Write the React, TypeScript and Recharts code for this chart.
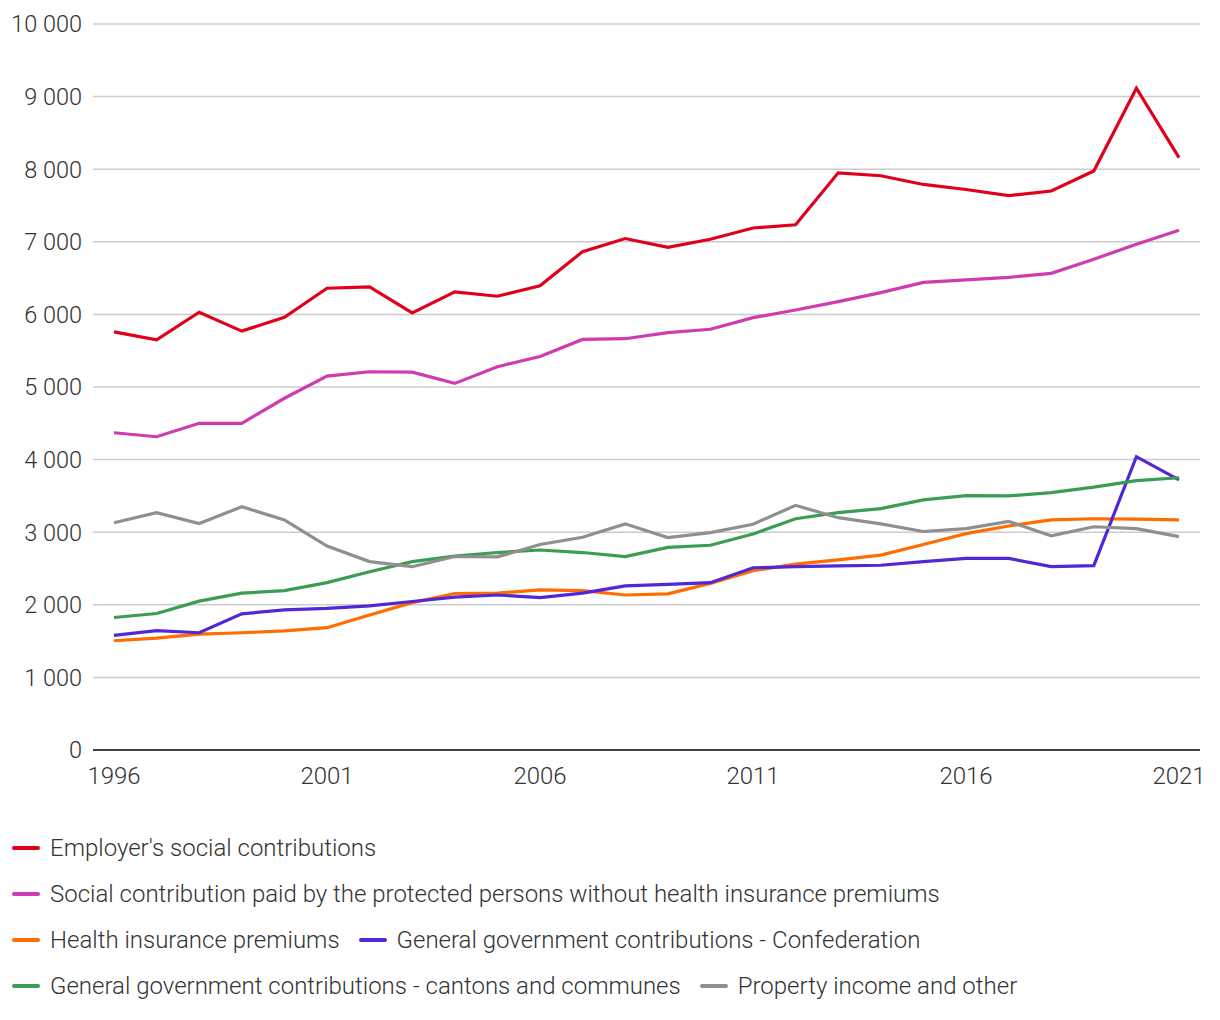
import React from "react";
import {
  LineChart,
  Line,
  XAxis,
  YAxis,
  CartesianGrid,
} from "recharts";

const years = [
  1996, 1997, 1998, 1999, 2000, 2001, 2002, 2003, 2004, 2005, 2006, 2007, 2008,
  2009, 2010, 2011, 2012, 2013, 2014, 2015, 2016, 2017, 2018, 2019, 2020, 2021,
];

const employer = [
  5760, 5650, 6030, 5770, 5960, 6360, 6380, 6020, 6310, 6250, 6395, 6865, 7045,
  6925, 7035, 7190, 7235, 7950, 7910, 7790, 7720, 7635, 7700, 7975, 9115, 8160,
];
const protectedPersons = [
  4370, 4315, 4500, 4500, 4845, 5150, 5210, 5205, 5050, 5280, 5420, 5655, 5665,
  5750, 5795, 5955, 6060, 6175, 6300, 6440, 6475, 6510, 6565, 6760, 6965, 7160,
];
const healthPremiums = [
  1505, 1540, 1595, 1615, 1640, 1685, 1860, 2030, 2155, 2160, 2205, 2195, 2135,
  2150, 2295, 2470, 2560, 2620, 2685, 2830, 2980, 3085, 3170, 3185, 3180, 3170,
];
const confederation = [
  1580, 1645, 1615, 1875, 1930, 1950, 1985, 2045, 2105, 2135, 2100, 2160, 2260,
  2280, 2305, 2510, 2525, 2535, 2545, 2595, 2640, 2640, 2525, 2540, 4040, 3720,
];
const cantons = [
  1825, 1880, 2050, 2160, 2195, 2305, 2455, 2595, 2670, 2720, 2755, 2720, 2665,
  2790, 2820, 2975, 3185, 3270, 3325, 3445, 3505, 3500, 3545, 3620, 3710, 3750,
];
const property = [
  3130, 3270, 3120, 3350, 3170, 2810, 2595, 2525, 2665, 2660, 2830, 2930, 3115,
  2925, 2995, 3110, 3370, 3200, 3115, 3010, 3050, 3150, 2950, 3075, 3050, 2940,
];

const yTicks = [0, 1000, 2000, 3000, 4000, 5000, 6000, 7000, 8000, 9000, 10000];

const series = [
  { key: "employer", name: "Employer's social contributions", color: "#e1001a", values: employer },
  { key: "protected", name: "Social contribution paid by the protected persons without health insurance premiums", color: "#d13bb0", values: protectedPersons },
  { key: "health", name: "Health insurance premiums", color: "#ff6c00", values: healthPremiums },
  { key: "confed", name: "General government contributions - Confederation", color: "#5127d6", values: confederation },
  { key: "cantons", name: "General government contributions - cantons and communes", color: "#3a9e52", values: cantons },
  { key: "property", name: "Property income and other", color: "#8f8f8f", values: property },
];

// legend rows as in the picture
const legendRows = [["employer"], ["protected"], ["health", "confed"], ["cantons", "property"]];

const data = years.map((year, i) => {
  const row: Record<string, number> = { year };
  series.forEach((s) => {
    row[s.key] = s.values[i];
  });
  return row;
});

const fmt = (v: number) => String(v).replace(/\B(?=(\d{3})+(?!\d))/g, " ");

const font = "Roboto, 'Noto Sans', sans-serif";

export default function App() {
  return (
    <div style={{ position: "absolute", left: 0, top: 0, width: 1220, height: 1020, background: "#fff", fontFamily: font, fontWeight: 300 }}>
      <LineChart
        width={1220}
        height={800}
        data={data}
        margin={{ top: 24, right: 20, left: 0, bottom: 20 }}
      >
        <CartesianGrid vertical={false} stroke="#cccccc" strokeWidth={1.5} />
        <XAxis
          dataKey="year"
          interval={4}
          padding={{ left: 21, right: 21 }}
          tickLine={false}
          axisLine={{ stroke: "#404040", strokeWidth: 2 }}
          tickMargin={11}
          height={30}
          tick={{ fontSize: 24, fill: "#333", fontFamily: font, fontWeight: 300 }}
        />
        <YAxis
          domain={[0, 10000]}
          ticks={yTicks}
          width={93}
          tickLine={false}
          axisLine={false}
          tickMargin={5}
          tickFormatter={fmt}
          tick={{ fontSize: 23.5, fill: "#333", fontFamily: font, fontWeight: 300 }}
        />
        {series.map((s) => (
          <Line
            key={s.key}
            type="linear"
            dataKey={s.key}
            name={s.name}
            stroke={s.color}
            strokeWidth={3.2}
            dot={false}
            isAnimationActive={false}
          />
        ))}
      </LineChart>
      <div style={{ position: "absolute", left: 12, top: 825 }}>
        {legendRows.map((row, ri) => (
          <div key={ri} style={{ display: "flex", alignItems: "center", height: 46 }}>
            {row.map((k) => {
              const s = series.find((x) => x.key === k)!;
              return (
                <div key={k} style={{ display: "flex", alignItems: "center", marginRight: 19 }}>
                  <div style={{ width: 28, height: 4, borderRadius: 2, background: s.color, marginRight: 10 }} />
                  <span style={{ fontSize: 24, color: "#333", whiteSpace: "nowrap" }}>{s.name}</span>
                </div>
              );
            })}
          </div>
        ))}
      </div>
    </div>
  );
}
